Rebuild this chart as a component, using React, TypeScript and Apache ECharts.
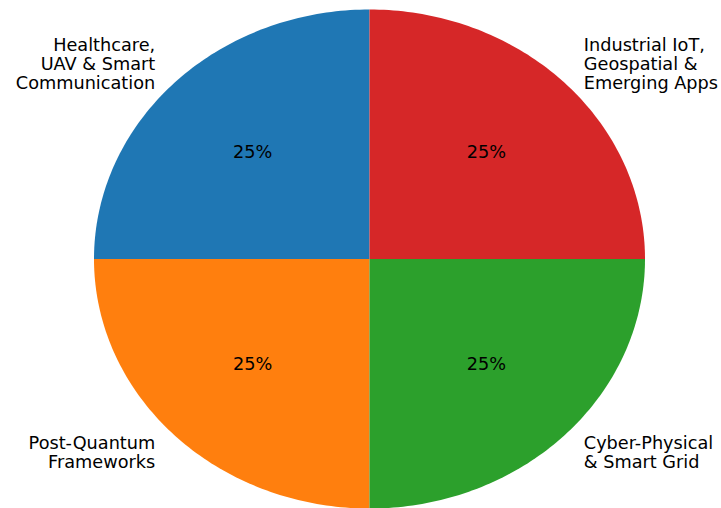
import React, { useEffect, useRef } from "react";
import * as echarts from "echarts";

const categories = [
  "Healthcare,\nUAV & Smart\nCommunication",
  "Post-Quantum\nFrameworks",
  "Cyber-Physical\n& Smart Grid",
  "Industrial IoT,\nGeospatial &\nEmerging Apps",
];
const values = [25, 25, 25, 25];
const colors = ["#1f77b4", "#ff7f0e", "#2ca02c", "#d62728"];

const total = values.reduce((a, b) => a + b, 0);
const startAngles: number[] = [];
{
  let acc = 90;
  for (const v of values) {
    startAngles.push(acc);
    acc += (v / total) * 360;
  }
}

export default function App() {
  const ref = useRef<HTMLDivElement>(null);
  useEffect(() => {
    if (!ref.current) return;
    const chart = echarts.init(ref.current, null, { renderer: "svg" });
    const cx = 369.5;
    const cy = 259;
    const rx = 275.5;
    const ry = 249.5;
    const font = "DejaVu Sans";
    chart.setOption({
      animation: false,
      series: [
        {
          type: "custom",
          coordinateSystem: "none",
          data: values.map((v, i) => ({ value: v, name: categories[i] })),
          renderItem: (params: any, api: any) => {
            const i = params.dataIndex;
            const v = values[i];
            const a0 = startAngles[i];
            const sweep = (v / total) * 360;
            const steps = 90;
            const pts: number[][] = [[cx, cy]];
            for (let k = 0; k <= steps; k++) {
              const a = ((a0 + (sweep * k) / steps) * Math.PI) / 180;
              pts.push([cx + rx * Math.cos(a), cy - ry * Math.sin(a)]);
            }
            const mid = ((a0 + sweep / 2) * Math.PI) / 180;
            const c = Math.cos(mid);
            const s = Math.sin(mid);
            return {
              type: "group",
              children: [
                {
                  type: "polygon",
                  shape: { points: pts },
                  style: { fill: colors[i], stroke: null },
                },
                {
                  type: "text",
                  x: cx + 1.1 * rx * c,
                  y: cy - 1.1 * ry * s - 1,
                  style: {
                    text: categories[i],
                    fill: "#000",
                    fontFamily: font,
                    fontSize: 17.7,
                    lineHeight: 19,
                    align: c < 0 ? "right" : "left",
                    verticalAlign: "middle",
                  },
                },
                {
                  type: "text",
                  x: cx + 0.6 * rx * c,
                  y: cy - 0.6 * ry * s - 1,
                  style: {
                    text: `${Math.round((v / total) * 100)}%`,
                    fill: "#000",
                    fontFamily: font,
                    fontSize: 17.7,
                    align: "center",
                    verticalAlign: "middle",
                  },
                },
              ],
            };
          },
        },
      ],
    });
    return () => chart.dispose();
  }, []);
  return (
    <div
      ref={ref}
      style={{ position: "fixed", left: 0, top: 0, width: 721, height: 508, background: "#fff" }}
    />
  );
}
